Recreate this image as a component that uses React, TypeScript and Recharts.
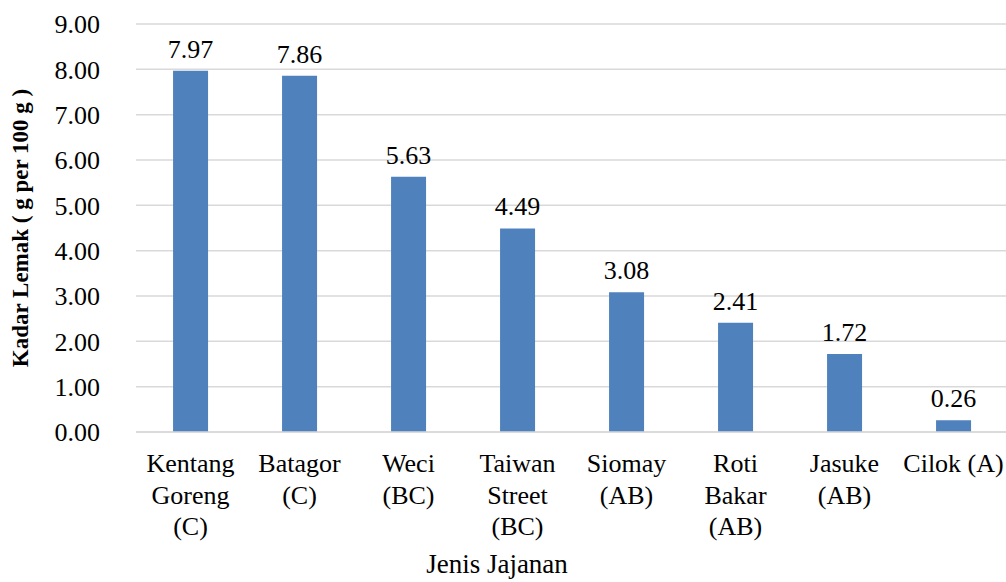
import React from 'react';
import { BarChart, Bar, XAxis, YAxis, CartesianGrid, LabelList, Label } from 'recharts';

const categories = [
  'Kentang\nGoreng\n(C)',
  'Batagor\n(C)',
  'Weci\n(BC)',
  'Taiwan\nStreet\n(BC)',
  'Siomay\n(AB)',
  'Roti\nBakar\n(AB)',
  'Jasuke\n(AB)',
  'Cilok (A)',
];
const fatValues = [7.97, 7.86, 5.63, 4.49, 3.08, 2.41, 1.72, 0.26];
const yTicks = [0, 1, 2, 3, 4, 5, 6, 7, 8, 9];

const data = categories.map((name, i) => ({ name, fat: fatValues[i] }));

const FONT = "'Liberation Serif', 'Times New Roman', serif";

const CategoryTick = (props: any) => {
  const { x, y, payload } = props;
  const lines = String(payload.value).split('\n');
  return (
    <g transform={`translate(${x},${y})`}>
      <text textAnchor="middle" style={{ fontFamily: FONT, fontSize: 26 }} fill="#000">
        {lines.map((line, i) => (
          <tspan key={i} x={0} y={40 + i * 31.5}>
            {line}
          </tspan>
        ))}
      </text>
    </g>
  );
};

export default function App() {
  return (
    <div style={{ position: 'absolute', left: 0, top: 0, width: 1006, height: 582, overflow: 'hidden', background: '#fff', fontFamily: FONT }}>
      <BarChart
        width={1010}
        height={582}
        data={data}
        margin={{ top: 24, right: 2, left: 0, bottom: 0 }}
        barCategoryGap="34%"
      >
        <CartesianGrid vertical={false} stroke="#d9d9d9" strokeWidth={1.5} />
        <XAxis
          dataKey="name"
          interval={0}
          tickLine={false}
          tickSize={0}
          tickMargin={0}
          axisLine={{ stroke: '#d9d9d9', strokeWidth: 1.5 }}
          tick={<CategoryTick />}
          height={150}
        />
        <YAxis
          domain={[0, 9]}
          ticks={yTicks}
          interval={0}
          width={136}
          axisLine={false}
          tickLine={false}
          tickSize={0}
          tickMargin={36}
          tickFormatter={(v: number) => v.toFixed(2)}
          tick={{ style: { fontFamily: FONT, fontSize: 26 }, fill: '#000' }}
        >
          <Label
            value="Kadar Lemak ( g per 100 g )"
            angle={-90}
            position="insideLeft"
            offset={20}
            style={{ fontFamily: FONT, fontSize: 23, fontWeight: 'bold', fill: '#000', textAnchor: 'middle' }}
          />
        </YAxis>
        <Bar dataKey="fat" fill="#4f81bd" isAnimationActive={false}>
          <LabelList
            dataKey="fat"
            position="top"
            offset={13}
            formatter={(v: any) => Number(v).toFixed(2)}
            style={{ fontFamily: FONT, fontSize: 26, fill: '#000' }}
          />
        </Bar>
        <text x={497} y={573} textAnchor="middle" style={{ fontFamily: FONT, fontSize: 27 }} fill="#000">
          Jenis Jajanan
        </text>
      </BarChart>
    </div>
  );
}
